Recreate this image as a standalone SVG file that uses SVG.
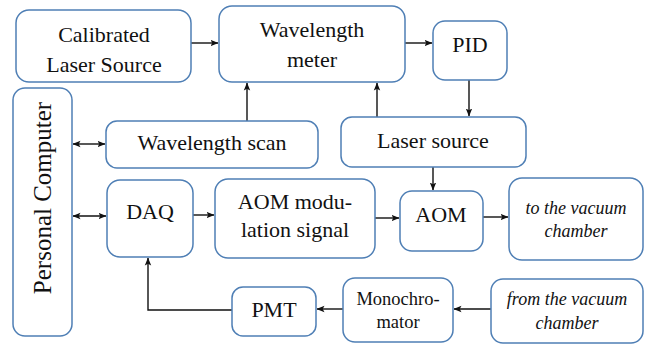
<svg xmlns="http://www.w3.org/2000/svg" width="646" height="344" viewBox="0 0 646 344" font-family="Liberation Serif, serif">
<defs>
<style>
.box{fill:#fff;stroke:#4f7fb5;stroke-width:1.5}
.t{fill:#111;text-anchor:middle}
.b{font-size:22px}
.i{font-size:18px;font-style:italic}
.s{font-size:18.5px}
.c{fill:none;stroke:#111;stroke-width:1.4}
</style>
<marker id="ah" viewBox="0 0 8 8" refX="7.5" refY="4" markerWidth="8" markerHeight="8" markerUnits="userSpaceOnUse" orient="auto-start-reverse">
<path d="M0,0.8 L8,4 L0,7.2 L1.8,4 Z" fill="#111"/>
</marker>
</defs>
<rect width="646" height="344" fill="#fff"/>
<g id="connectors">
<line class="c" x1="191" y1="43" x2="218" y2="43" marker-end="url(#ah)"/>
<line class="c" x1="405" y1="43" x2="432" y2="43" marker-end="url(#ah)"/>
<line class="c" x1="469" y1="80" x2="469" y2="116" marker-end="url(#ah)"/>
<line class="c" x1="247" y1="121" x2="247" y2="83" marker-end="url(#ah)"/>
<line class="c" x1="377" y1="117" x2="377" y2="83" marker-end="url(#ah)"/>
<line class="c" x1="73" y1="144" x2="105" y2="144" marker-start="url(#ah)" marker-end="url(#ah)"/>
<line class="c" x1="73" y1="216" x2="106" y2="216" marker-start="url(#ah)" marker-end="url(#ah)"/>
<line class="c" x1="193" y1="215" x2="214" y2="215" marker-end="url(#ah)"/>
<line class="c" x1="375" y1="218" x2="399" y2="218" marker-end="url(#ah)"/>
<line class="c" x1="433" y1="167" x2="433" y2="190" marker-end="url(#ah)"/>
<line class="c" x1="483" y1="217" x2="508" y2="217" marker-end="url(#ah)"/>
<line class="c" x1="491" y1="309" x2="454" y2="309" marker-end="url(#ah)"/>
<line class="c" x1="343" y1="309" x2="317" y2="309" marker-end="url(#ah)"/>
<polyline class="c" points="232,310 148,310 148,258" marker-end="url(#ah)"/>
</g>
<g id="calibrated">
<rect class="box" x="16" y="10" width="175" height="72" rx="13"/>
<text class="t b" x="104" y="42">Calibrated</text>
<text class="t b" x="104" y="72">Laser Source</text>
</g>
<g id="wavemeter">
<rect class="box" x="219" y="6" width="186" height="76" rx="13"/>
<text class="t b" x="312" y="37">Wavelength</text>
<text class="t b" x="312" y="67">meter</text>
</g>
<g id="pid">
<rect class="box" x="433" y="21" width="74" height="59" rx="12"/>
<text class="t b" x="470" y="52">PID</text>
</g>
<g id="pc">
<rect class="box" x="13" y="88" width="59" height="248" rx="12"/>
<text class="t" font-size="25" transform="translate(51,198) rotate(-90)">Personal Computer</text>
</g>
<g id="wscan">
<rect class="box" x="106" y="121" width="212" height="47" rx="11"/>
<text class="t b" x="212" y="150">Wavelength scan</text>
</g>
<g id="laser">
<rect class="box" x="341" y="117" width="185" height="50" rx="11"/>
<text class="t b" x="433" y="148">Laser source</text>
</g>
<g id="daq">
<rect class="box" x="107" y="180" width="86" height="77" rx="13"/>
<text class="t b" x="150" y="219">DAQ</text>
</g>
<g id="aommod">
<rect class="box" x="215" y="179" width="160" height="79" rx="13"/>
<text class="t b" x="295" y="209">AOM modu-</text>
<text class="t b" x="295" y="237">lation signal</text>
</g>
<g id="aom">
<rect class="box" x="400" y="191" width="83" height="60" rx="12"/>
<text class="t b" x="441" y="222">AOM</text>
</g>
<g id="tovac">
<rect class="box" x="509" y="178" width="134" height="82" rx="13"/>
<text class="t i" x="576" y="214">to the vacuum</text>
<text class="t i" x="576" y="237">chamber</text>
</g>
<g id="pmt">
<rect class="box" x="232" y="287" width="84" height="49" rx="11"/>
<text class="t b" x="274" y="317">PMT</text>
</g>
<g id="mono">
<rect class="box" x="343" y="278" width="110" height="64" rx="12"/>
<text class="t s" x="398" y="305">Monochro-</text>
<text class="t s" x="398" y="328">mator</text>
</g>
<g id="fromvac">
<rect class="box" x="491" y="279" width="152" height="64" rx="12"/>
<text class="t i" x="567" y="305">from the vacuum</text>
<text class="t i" x="567" y="329">chamber</text>
</g>
</svg>
